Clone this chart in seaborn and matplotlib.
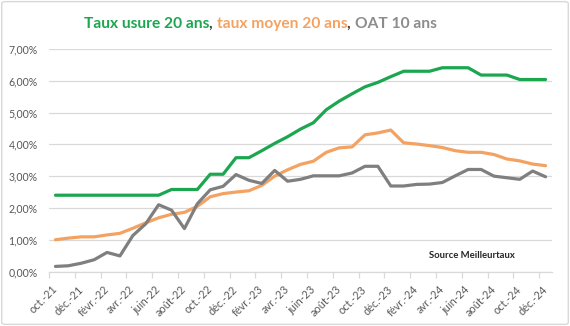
import matplotlib
matplotlib.use("Agg")
import matplotlib.pyplot as plt
from matplotlib.patches import FancyBboxPatch
from matplotlib.ticker import FixedLocator, FuncFormatter, NullFormatter
import numpy as np
import pandas as pd
import seaborn as sns

# Monthly series, Oct 2021 -> Dec 2024 (values in %)
months = [
    "oct.-21", "nov.-21", "déc.-21", "janv.-22", "févr.-22", "mars-22", "avr.-22", "mai-22",
    "juin-22", "juil.-22", "août-22", "sept.-22", "oct.-22", "nov.-22", "déc.-22", "janv.-23",
    "févr.-23", "mars-23", "avr.-23", "mai-23", "juin-23", "juil.-23", "août-23", "sept.-23",
    "oct.-23", "nov.-23", "déc.-23", "janv.-24", "févr.-24", "mars-24", "avr.-24", "mai-24",
    "juin-24", "juil.-24", "août-24", "sept.-24", "oct.-24", "nov.-24", "déc.-24",
]
taux_usure_20 = [
    2.40, 2.40, 2.40, 2.40, 2.40, 2.40, 2.40, 2.40, 2.40, 2.58, 2.58, 2.58, 3.06, 3.06,
    3.58, 3.58, 3.80, 4.03, 4.24, 4.48, 4.68, 5.09, 5.36, 5.59, 5.81, 5.95, 6.13,
    6.30, 6.30, 6.30, 6.41, 6.41, 6.41, 6.18, 6.18, 6.18, 6.04, 6.04, 6.04,
]
taux_moyen_20 = [
    1.00, 1.05, 1.09, 1.09, 1.15, 1.20, 1.36, 1.53, 1.69, 1.80, 1.86, 2.05, 2.35, 2.45,
    2.50, 2.54, 2.71, 3.00, 3.20, 3.37, 3.47, 3.75, 3.89, 3.92, 4.30, 4.36, 4.45,
    4.05, 4.01, 3.96, 3.90, 3.80, 3.75, 3.75, 3.68, 3.54, 3.48, 3.38, 3.33,
]
oat_10 = [
    0.16, 0.18, 0.26, 0.37, 0.60, 0.49, 1.13, 1.50, 2.10, 1.93, 1.35, 2.13, 2.57, 2.68,
    3.05, 2.87, 2.77, 3.18, 2.84, 2.90, 3.01, 3.01, 3.01, 3.10, 3.31, 3.31, 2.69,
    2.69, 2.74, 2.75, 2.80, 3.01, 3.21, 3.21, 3.00, 2.95, 2.90, 3.16, 2.98,
]
series_names = ["Taux usure 20 ans", "taux moyen 20 ans", "OAT 10 ans"]
series_colors = ["#1ca650", "#f4a262", "#7f7f7f"]
y_ticks = [0, 1, 2, 3, 4, 5, 6, 7]
source_text = "Source Meilleurtaux"

df = pd.DataFrame({
    "mois": np.tile(np.arange(len(months)), 3),
    "taux": taux_usure_20 + taux_moyen_20 + oat_10,
    "serie": np.repeat(series_names, len(months)),
})

sns.set_theme(style="white")
plt.rcParams["font.family"] = ["Lato", "DejaVu Sans"]

fig = plt.figure(figsize=(5.70, 3.26), dpi=100)
fig.patch.set_facecolor("white")
ax = fig.add_axes([49 / 570, 1 - 271.5 / 326, (552 - 49) / 570, (271.5 - 49) / 326])

sns.lineplot(data=df, x="mois", y="taux", hue="serie", hue_order=series_names,
             palette=series_colors, linewidth=2.3, legend=False, ax=ax,
             solid_capstyle="round", solid_joinstyle="round", zorder=3)

ax.set_xlim(-0.5, len(months) - 0.5)
ax.set_ylim(0, 7)
ax.set_xlabel("")
ax.set_ylabel("")

# y axis: percentages with comma decimals, gridlines only
ax.yaxis.set_major_locator(FixedLocator(y_ticks))
ax.yaxis.set_major_formatter(FuncFormatter(lambda v, p: f"{v:.2f}%".replace(".", ",")))
ax.grid(axis="y", color="#d9d9d9", linewidth=0.9)
ax.grid(axis="x", visible=False)
ax.tick_params(axis="y", length=0, pad=8, labelsize=7.6, labelcolor="#595959")

# x axis: labels every two months, tick marks between categories
ax.set_xticks(np.arange(0, len(months), 2))
ax.set_xticklabels(months[::2], rotation=45, ha="right", va="center",
                   rotation_mode="anchor")
ax.tick_params(axis="x", which="major", length=0, pad=11.5, labelsize=7.8, labelcolor="#595959")
ax.xaxis.set_minor_locator(FixedLocator(np.arange(-0.5, len(months) - 1, 2)))
ax.xaxis.set_minor_formatter(NullFormatter())
ax.tick_params(axis="x", which="minor", bottom=True, length=4, width=0.9, color="#d9d9d9")

for side in ["left", "right", "top"]:
    ax.spines[side].set_visible(False)
ax.spines["bottom"].set_color("#d9d9d9")
ax.spines["bottom"].set_linewidth(0.9)

# multi-coloured title
title_parts = [
    (series_names[0], series_colors[0]),
    (", ", "#404040"),
    (series_names[1], series_colors[1]),
    (", ", "#404040"),
    (series_names[2], "#8c8c8c"),
]
prev = fig.text(84 / 570, 1 - 31 / 326, title_parts[0][0], color=title_parts[0][1],
                fontsize=11.2, fontweight="bold", ha="left", va="bottom")
for txt, col in title_parts[1:]:
    prev = ax.annotate(txt, xy=(1, 0), xycoords=prev, ha="left", va="bottom",
                       color=col, fontsize=11.2, fontweight="bold", annotation_clip=False)

fig.text(472 / 570, 1 - 256 / 326, source_text, ha="center", va="center",
         fontsize=6.8, fontweight="bold", color="#262626")

# chart area border
fig.patches.append(FancyBboxPatch((0.003, 0.005), 0.994, 0.99,
                                  boxstyle="round,pad=0,rounding_size=0.006",
                                  transform=fig.transFigure, fill=False,
                                  edgecolor="#d9d9d9", linewidth=1.0))

fig.savefig("out.png", dpi=100, facecolor="white")
